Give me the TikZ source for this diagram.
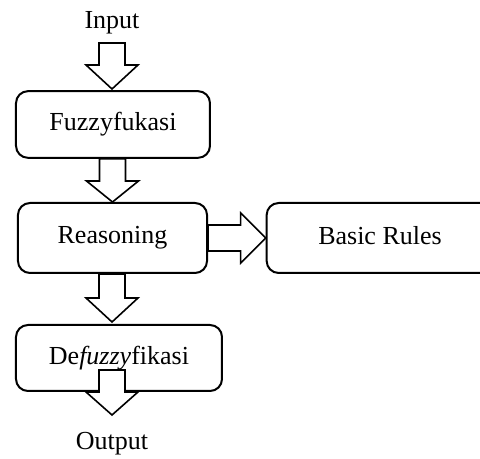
\documentclass[tikz,border=0pt]{standalone}
\usepackage{fontspec}
\setmainfont{Liberation Serif}
\usetikzlibrary{calc}

% block arrow pointing down: #1 start, #2 tip, #3 head length
\newcommand{\blockdown}[3]{%
  \draw[blockarrow] ($(#2 |- #1)+(-13,0)$) -- ($(#2)+(-13,-#3)$) -- ($(#2)+(-26,-#3)$)
    -- (#2) -- ($(#2)+(26,-#3)$) -- ($(#2)+(13,-#3)$) -- ($(#2 |- #1)+(13,0)$) -- cycle;}
% block arrow pointing right: #1 start, #2 tip, #3 head length
\newcommand{\blockright}[3]{%
  \draw[blockarrow] ($(#2 -| #1)+(0,-13)$) -- ($(#2)+(-#3,-13)$) -- ($(#2)+(-#3,-25)$)
    -- (#2) -- ($(#2)+(-#3,25)$) -- ($(#2)+(-#3,13)$) -- ($(#2 -| #1)+(0,13)$) -- cycle;}

\begin{document}
\begin{tikzpicture}[
    x=0.75pt, y=-0.75pt,
    every node/.style={font=\fontsize{19.5}{23}\selectfont},
    stage/.style={draw, line width=1.5pt, rounded corners=9pt, inner sep=0pt},
    label/.style={inner sep=0pt},
    blockarrow/.style={draw, fill=white, line width=1.2pt, line join=miter}
]
\useasboundingbox (0,0) rectangle (480,459);
\clip (0,0) rectangle (480,459);

% texts in and out
\node[label] (input) at (112,23) {Input};
\node[label] (output) at (112,444) {Output};

% stages
\node[stage, minimum width=145.5pt, minimum height=50pt] (fuzz) at (113,124.5) {Fuzzyfukasi};
\node[stage, minimum width=141.8pt, minimum height=52.5pt] (reason) at (112.5,238) {Reasoning};
\node[stage, minimum width=170pt, minimum height=52.5pt, text depth=4.5pt] (rules) at (380,238) {Basic Rules};
\node[stage, minimum width=154.5pt, minimum height=49.5pt] (defuzz) at (119,358) {De\textit{fuzzy}fikasi};

% free ends
\coordinate (a1s) at (112,43);
\coordinate (a1t) at (112,89);
\coordinate (a3t) at (112,322);
\coordinate (a4s) at (112,370);
\coordinate (a4t) at (112,415);

% arrows
\blockdown{a1s}{a1t}{24}
\blockdown{fuzz.south}{reason.north}{21}
\blockdown{reason.south}{a3t}{24}
\blockdown{a4s}{a4t}{23}
\blockright{reason.east}{rules.west}{25}

\end{tikzpicture}
\end{document}
